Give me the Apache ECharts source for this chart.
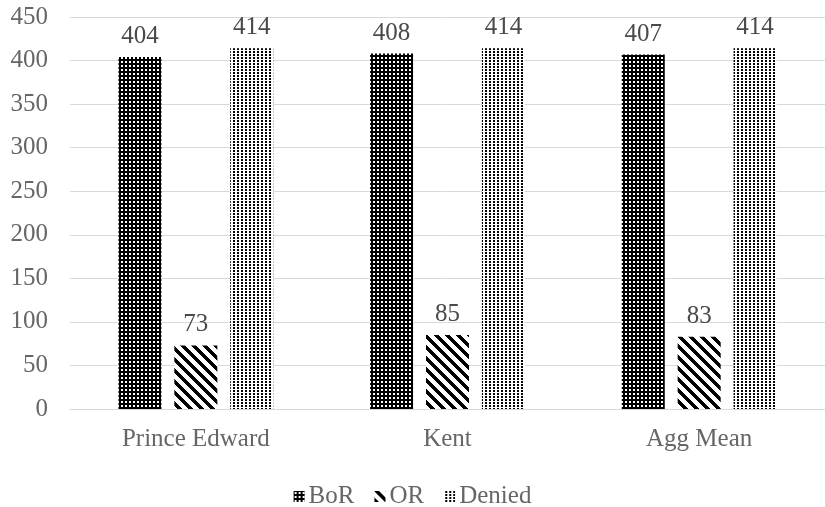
<!DOCTYPE html>
<html>
<head>
<meta charset="utf-8">
<script src="https://cdn.jsdelivr.net/npm/echarts@6/dist/echarts.min.js"></script>
<style>
html,body{margin:0;padding:0;background:#fff;}
#chart{width:825px;height:507px;}
</style>
</head>
<body>
<div id="chart"></div>
<script>
const categories = ['Prince Edward', 'Kent', 'Agg Mean'];
const seriesNames = ['BoR', 'OR', 'Denied'];
const borValues = [404, 408, 407];
const orValues = [73, 85, 83];
const deniedValues = [414, 414, 414];
const yTicks = { min: 0, max: 450, interval: 50 };

function makeTile(w, h, fn) {
  const c = document.createElement('canvas');
  c.width = w; c.height = h;
  const ctx = c.getContext('2d');
  const img = ctx.createImageData(w, h);
  for (let y = 0; y < h; y++) {
    for (let x = 0; x < w; x++) {
      const black = fn(x, y);
      const i = (y * w + x) * 4;
      const v = black ? 0 : 255;
      img.data[i] = v; img.data[i+1] = v; img.data[i+2] = v; img.data[i+3] = 255;
    }
  }
  ctx.putImageData(img, 0, 0);
  return c;
}
// BoR: black with small white dots
const borTile = makeTile(4, 4, (x, y) => !((x === 1 || x === 2) && (y === 1 || y === 2)));
// OR: wide downward diagonal stripes
const P = 11;
const orTile = makeTile(P, P, (x, y) => (((x - y) % P) + P) % P < 5);
// Denied: white with black dots
const denTile = makeTile(4, 3, (x, y) => (x === 1 || x === 2) && (y === 0 || y === 1));

const pat = t => ({ image: t, repeat: 'repeat' });
const FONT = '"Liberation Serif", serif';

const labelCfg = {
  show: true, position: 'top', distance: 8,
  color: '#4a4a4a', fontSize: 25, fontFamily: FONT
};

const chart = echarts.init(document.getElementById('chart'), null, { renderer: 'canvas' });
chart.setOption({
  animation: false,
  backgroundColor: '#fff',
  grid: { left: 70, right: 0, top: 17, bottom: 98, containLabel: false },
  legend: {
    data: seriesNames,
    top: 479, left: 'center',
    itemWidth: 11, itemHeight: 11, itemGap: 20,
    icon: 'rect',
    textStyle: { color: '#666666', fontSize: 25, fontFamily: FONT, padding: [0, 0, 0, -1] }
  },
  xAxis: {
    type: 'category', data: categories,
    axisLine: { lineStyle: { color: '#d9d9d9', width: 1 } },
    axisTick: { show: false },
    axisLabel: { color: '#666666', fontSize: 25, fontFamily: FONT, margin: 18 }
  },
  yAxis: {
    type: 'value', min: yTicks.min, max: yTicks.max, interval: yTicks.interval,
    axisLine: { show: false }, axisTick: { show: false },
    axisLabel: { color: '#666666', fontSize: 25, fontFamily: FONT, margin: 22 },
    splitLine: { lineStyle: { color: '#d9d9d9', width: 1 } }
  },
  series: [
    { name: seriesNames[0], type: 'bar', data: borValues, barWidth: 43, barGap: '30%',
      itemStyle: { color: pat(borTile) }, label: labelCfg },
    { name: seriesNames[1], type: 'bar', data: orValues, barWidth: 43, barGap: '30%',
      itemStyle: { color: pat(orTile) }, label: labelCfg },
    { name: seriesNames[2], type: 'bar', data: deniedValues, barWidth: 43, barGap: '30%',
      itemStyle: { color: pat(denTile) }, label: labelCfg }
  ]
});
</script>
</body>
</html>
